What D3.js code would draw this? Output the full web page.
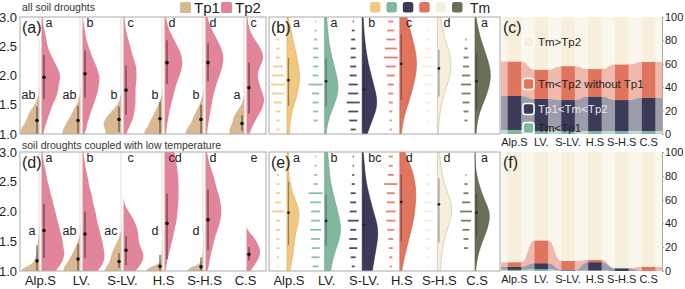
<!DOCTYPE html>
<html><head><meta charset="utf-8">
<script src="https://cdn.jsdelivr.net/npm/d3@7"></script>
<style>body{margin:0;background:#fff}svg{display:block}</style>
</head><body><svg id="c" width="685" height="289"></svg>
<script>
// ---------------- DATA ----------------
const categories = ["Alp.S","LV.","S-LV.","H.S","S-H.S","C.S"];
const yTicks = [1.0,1.5,2.0,2.5,3.0];
const pctTicks = [0,20,40,60,80,100];
const tanGrid = [1.0,1.05,1.1,1.15,1.2,1.3,1.4,1.5,1.6,1.7,1.8];
const pinkGrid = [1.0,1.1,1.2,1.3,1.4,1.5,1.6,1.7,1.8,1.9,2.0,2.1,2.2,2.3,2.4,2.5,2.6,2.7,2.8,2.9,3.0];

// (a) all soil droughts: Tp1 density (on tanGrid), Tp2 density (on pinkGrid)
const aTp1Density = [
  [19,19,18,16,14,12,9,5,2,0.5,0],
  [18,18,17,15,14,10,7,4,1.5,0.5,0],
  [16,16,17,18,18,15,9,4,1.5,0.5,0],
  [18,18,16,14,13,10,7,4,2,0.5,0],
  [18,18,16,14,12,10,7,4,2,0.5,0],
  [15,15,15,13,12,11,7,3,1,0.3,0]
];
const aTp2Density = [
  [2,3,5,7,9,11,14,16,17,18,19,17,14,11,8,6,5,4,2.5,1.5,1],
  [2,4,5,7,9,11,13,15,16,17,17,15,13,10,8,6,4,3,2,1,0.5],
  [3,5,8,10,11,12,12,12,12,13,13,13,12,10,8,7,5,3.5,2,1.5,1],
  [1.5,2,3,4,5,6.5,8,9.5,11,13,15,17,18,17.5,16,13,10,7,4,2.5,1.5],
  [1.5,2,3,4,5,6,7,8.5,10,12,14,16,17.5,18,17,15,12,9,6,3.5,2],
  [3,5,8,11,15,17,18,16,14,12,11,12,15,17,16,13,9,5,3,1.5,1]
];
// [low, high, mean]
const aTp1Stats = [[1.0,1.47,1.23],[1.0,1.48,1.23],[1.03,1.47,1.25],[1.0,1.55,1.26],[1.0,1.5,1.25],[1.05,1.32,1.18]];
const aTp2Stats = [[1.6,2.35,1.97],[1.62,2.43,2.03],[1.33,2.17,1.75],[1.85,2.6,2.22],[1.9,2.55,2.22],[1.35,2.22,1.79]];
const aTp1Letters = ["ab","ab","b","b","b","a"];
const aTp2Letters = ["a","b","c","d","d","c"];

// (d) soil droughts coupled with low temperature
const dTp1Density = [
  [18,17,9,6,4,2.5,2,1.5,1,0.5,0],
  [17,17,15,13,11,8,5,2.5,1,0.3,0],
  [17,16,14,12,11,10,7,4,1.5,0.3,0],
  [16,15,6,2,1.5,1,0.7,0.5,0.3,0,0],
  [16,15,6,2,1.5,1,0.7,0.5,0.3,0,0],
  null
];
const dTp2Density = [
  [14,19,22,23,22,21,20,18,17,15,14,12,11,9,8,6,5,4,2.5,1.5,1],
  [15,20,22,22,21,20,18,17,15,14,13,11,10,9,7,6,5,3.5,2.5,1.5,1],
  [12,17,20,20,17,15,15,14,12,9,5,1.5,0,0,0,0,0,0,0,0,0],
  [1,2,3,4.5,6,7.5,9,10,11.5,12.5,13,13.5,14,14,14,14,13.5,13,12,11,10],
  [2,3.5,4.5,5.5,7,8.5,10,12.5,14,15.5,16,15.5,14.5,13,11,9.5,8,6,4,2.5,1.5],
  [4,8,12,14,13,10,6,0,0,0,0,0,0,0,0,0,0,0,0,0,0]
];
const dTp1Stats = [[1.0,1.43,1.17],[1.0,1.45,1.2],[1.05,1.3,1.16],[1.0,1.27,1.08],[1.0,1.23,1.07],null];
const dTp2Stats = [[1.22,2.13,1.68],[1.22,2.0,1.62],[1.1,1.58,1.35],[1.2,2.3,1.8],[1.35,2.37,1.86],[1.18,1.4,1.28]];
const dTp1Letters = ["a","ab","ac","d","d",""];
const dTp2Letters = ["a","b","c","cd","d","e"];

// (b)/(e) Tm half violins: widths from top (0) to bottom (1) of the panel
const bTmDensity = [
  [1,4,6,9,11,13,12,9,5,3,2.5],
  [2,3,4,6,9,12,14,12,7,3,1.5],
  [1,1.5,2.5,4,6,9,12,15,14,9,5],
  [7,10,13,16,17,16,13,10,6,3,1.5],
  [3,5,8,12,14,13,9,5,3,1.5,1],
  [1,3,6,10,14,16,14,10,5,2,1]
];
const eTmDensity = [
  [1.5,1.5,2,4,8,13,11,8,7,5,3],
  [3,4,5,7,10,13,16,16,12,8,6],
  [1,2,3,5,8,11,15,16,14,12,10],
  [5,10,14,16,16,15,13,10,7,4,2],
  [2,3,5,8,13,15,12,8,5,4,3],
  [0,0.3,1.5,5,9,15,14,10,5,2,0.5]
];
// [low, high, mean] in relative height (0 bottom, 1 top)
const bTmStats = [[0.24,0.65,0.46],[0.24,0.65,0.45],[0.07,0.60,0.38],[0.29,0.85,0.60],[0.32,0.72,0.56],[0.21,0.69,0.45]];
const eTmStats = [[0.22,0.75,0.49],[0.21,0.64,0.42],[0.15,0.625,0.39],[0.25,0.81,0.58],[0.24,0.78,0.56],[0.29,0.65,0.49]];
// rain (dash lengths) in 13 bins from top to bottom
const bTmRain = [
  [0,0,2,3,5,10,12,14,12,8,5,3,3],
  [1,2,3,5,5,5,6,14,7,6,5,4,0],
  [1,3,4,5,5,6,7,9,10,13,10,8,5],
  [5,7,9,12,14,10,8,6,5,4,3,2,2],
  [2,3,4,6,8,12,10,8,6,5,3,2,1],
  [0,0,1,3,5,6,8,10,9,7,5,3,0]
];
const eTmRain = [
  [0,1,2,3,4,6,12,4,4,3,3,2,1],
  [1,2,3,4,14,11,9,9,11,9,8,8,6],
  [1,1,2,3,5,6,7,11,6,8,8,5,3],
  [4,4,6,13,8,8,10,9,7,5,4,3,2],
  [1,2,3,4,6,8,10,8,6,5,4,3,2],
  [0,0,1,3,5,8,12,10,7,5,4,0,0]
];
const bLetters = ["a","a","b","c","d","a"];
const eLetters = ["a","b","bc","d","d","a"];

// (c)/(f) percentage composition
const layerKeys = ["Tm<Tp1","Tp1<Tm<Tp2","Tm<Tp2 without Tp1","Tm>Tp2"];
const cTmLtTp1      = [3.5,2.5,2.5,2.5,2.5,2.5];
const cTp1LtTmLtTp2 = [29,27.5,26.5,29.5,26.5,28.5];
const cTmLtTp2NoTp1 = [29.5,25,29,23.5,30.5,30.5];
const cTmGtTp2      = [38,45,42,44.5,40.5,38.5];
const fTmLtTp1      = [1,1.5,0.5,0.5,0,0];
const fTp1LtTmLtTp2 = [2.6,5,0.5,6.9,2.3,0];
const fTmLtTp2NoTp1 = [3.8,19.2,7.5,1.9,0,3.6];
const fTmGtTp2      = [92.6,74.3,91.5,90.7,97.7,96.4];

// ---------------- STYLE ----------------
const FONT = "'Liberation Sans', Arial, Helvetica, sans-serif";
const TAN = "#d9b992", PINK = "#e3859a";
const tmColors = ["#f2c77e","#82b89d","#3b3a58","#e1745d","#f5efdc","#687058"];
const tmStroke = ["#d9aa5c","#65a083","#2a2a44","#c95c46","#c2b99f","#50573f"];
const layerColors = ["#7fb89d","#3b3a58","#e1745d","#f5efdc"];
const AX = "#aaaaaa", TXT = "#222";

const svg = d3.select("#c").style("font-family", FONT);
const defs = svg.append("defs");

const rows = [
  {top:17, bot:134},
  {top:152, bot:271}
];
const P = {a:[20,266], b:[269,500], c:[501,662]};

function clip(id,x0,x1,y0,y1){
  defs.append("clipPath").attr("id",id).append("rect")
    .attr("x",x0).attr("y",y0).attr("width",x1-x0).attr("height",y1-y0);
}

// ---------- violin panels (a)/(d) ----------
function violinPanel(ri, tanD, pinkD, tanS, pinkS, tanL, pinkL, lab){
  const r = rows[ri];
  const y = d3.scaleLinear([1,3],[r.bot,r.top]);
  const x = d3.scalePoint(categories,[40.5,245.5]);
  const w = d3.scaleLinear([0,20],[0,20]);
  const cid = "clipV"+ri;
  clip(cid,P.a[0],P.a[1],r.top,r.bot);
  const g = svg.append("g").attr("clip-path",`url(#${cid})`);
  categories.forEach((c,i)=>{
    const cx = x(c);
    if (tanD[i]){
      const pts = tanGrid.map((v,k)=>({v,w:tanD[i][k]}));
      const last = d3.max(pts.filter(p=>p.w>0),p=>p.v);
      g.append("line").attr("x1",cx-1.6).attr("x2",cx-1.6).attr("y1",y(last)).attr("y2",y(3))
        .attr("stroke",TAN).attr("stroke-opacity",0.35).attr("stroke-width",1.4);
      g.append("path").datum(pts)
        .attr("d",d3.area().curve(d3.curveBasis).y(d=>y(d.v)).x0(cx-1).x1(d=>cx-1-w(d.w)))
        .attr("fill",TAN);
    }
    const pp = pinkGrid.map((v,k)=>({v,w:pinkD[i][k]}));
    g.append("path").datum(pp)
      .attr("d",d3.area().curve(d3.curveBasis).y(d=>y(d.v)).x0(cx+1).x1(d=>cx+1+w(d.w)))
      .attr("fill",PINK);
    if (tanS[i]){
      const s = tanS[i];
      g.append("line").attr("x1",cx-3.5).attr("x2",cx-3.5).attr("y1",y(s[0])).attr("y2",y(s[1]))
        .attr("stroke","#4a3c30").attr("stroke-width",1);
      g.append("circle").attr("cx",cx-3.5).attr("cy",y(s[2])).attr("r",1.8).attr("fill","#111");
    }
    const s2 = pinkS[i];
    g.append("line").attr("x1",cx+3.5).attr("x2",cx+3.5).attr("y1",y(s2[0])).attr("y2",y(s2[1]))
      .attr("stroke","#4a3038").attr("stroke-width",1);
    g.append("circle").attr("cx",cx+3.5).attr("cy",y(s2[2])).attr("r",1.8).attr("fill","#111");
    // letters
    svg.append("text").attr("x",cx-5).attr("y",y(1.6)).attr("text-anchor","end")
      .attr("font-size",12.5).attr("fill",TXT).text(tanL[i]);
    svg.append("text").attr("x",cx+5).attr("y",r.top+10).attr("text-anchor","start")
      .attr("font-size",12.5).attr("fill",TXT).text(pinkL[i]);
  });
  svg.append("rect").attr("x",P.a[0]).attr("y",r.top).attr("width",P.a[1]-P.a[0]).attr("height",r.bot-r.top)
    .attr("fill","none").attr("stroke",AX).attr("stroke-width",1);
  const ax = svg.append("g").attr("transform",`translate(${P.a[0]},0)`)
    .call(d3.axisLeft(y).tickValues(yTicks).tickFormat(d3.format(".1f")).tickSize(0).tickPadding(3));
  ax.select(".domain").remove();
  ax.selectAll("text").attr("font-size",13).attr("fill",TXT).attr("font-family",FONT);
  svg.append("text").attr("x",22).attr("y",r.top+16).attr("font-size",16).attr("fill",TXT).text(lab);
}

// ---------- Tm panels (b)/(e) ----------
function tmPanel(ri, dens, stats, rain, letters, lab){
  const r = rows[ri];
  const y = d3.scaleLinear([0,1],[r.bot,r.top]);
  const x = d3.scalePoint(categories,[287,475]);
  const w = d3.scaleLinear([0,20],[0,20]);
  const cid = "clipT"+ri;
  clip(cid,P.b[0],P.b[1],r.top,r.bot);
  const g = svg.append("g").attr("clip-path",`url(#${cid})`);
  categories.forEach((c,i)=>{
    const fx = x(c);
    // rain
    rain[i].forEach((len,k)=>{
      if (len<=0) return;
      const v = 1-(k+0.5)/rain[i].length;
      g.append("line").attr("x1",fx-9-len/2).attr("x2",fx-9+len/2).attr("y1",y(v)).attr("y2",y(v))
        .attr("stroke",tmColors[i]).attr("stroke-width",1.8)
        .attr("stroke-opacity", i===4?1:0.9);
    });
    const pts = dens[i].map((d,k)=>({v:1-k/(dens[i].length-1), w:d}));
    g.append("path").datum(pts)
      .attr("d",d3.area().curve(d3.curveBasis).y(d=>y(d.v)).x0(fx).x1(d=>fx+w(d.w)))
      .attr("fill",tmColors[i]).attr("stroke",tmStroke[i]).attr("stroke-width",0.6);
    const s = stats[i];
    g.append("line").attr("x1",fx+1.5).attr("x2",fx+1.5).attr("y1",y(s[0])).attr("y2",y(s[1]))
      .attr("stroke","rgba(40,40,40,0.45)").attr("stroke-width",1.2);
    g.append("circle").attr("cx",fx+1.5).attr("cy",y(s[2])).attr("r",1.4).attr("fill","#222");
    svg.append("text").attr("x",fx+6).attr("y",r.top+10).attr("font-size",12.5).attr("fill",TXT).text(letters[i]);
  });
  svg.append("rect").attr("x",P.b[0]).attr("y",r.top).attr("width",P.b[1]-P.b[0]).attr("height",r.bot-r.top)
    .attr("fill","none").attr("stroke",AX).attr("stroke-width",1);
  svg.append("text").attr("x",271).attr("y",r.top+16).attr("font-size",16).attr("fill",TXT).text(lab);
}

// ---------- composition panels (c)/(f) ----------
function compPanel(ri, series, lab){
  const r = rows[ri];
  const y = d3.scaleLinear([0,100],[r.bot,r.top]);
  const x = d3.scaleBand(categories,[P.c[0],P.c[1]]);
  const bw = x.bandwidth()/2;
  const table = categories.map((c,i)=>{
    const o = {cat:c};
    layerKeys.forEach((k,j)=>o[k]=series[j][i]);
    return o;
  });
  const stack = d3.stack().keys(layerKeys)(table);
  const g = svg.append("g");
  stack.forEach((s,j)=>{
    const pts = [{x:P.c[0], y0:s[0][0], y1:s[0][1]}];
    s.forEach((d,i)=>{
      const cx = x(categories[i])+x.bandwidth()/2;
      pts.push({x:cx-bw/2,y0:d[0],y1:d[1]});
      pts.push({x:cx+bw/2,y0:d[0],y1:d[1]});
    });
    pts.push({x:P.c[1], y0:s[s.length-1][0], y1:s[s.length-1][1]});
    g.append("path").datum(pts)
      .attr("d",d3.area().curve(d3.curveBumpX).x(d=>d.x).y0(d=>y(d.y0)).y1(d=>y(d.y1)))
      .attr("fill",layerColors[j]).attr("fill-opacity",0.5);
  });
  stack.forEach((s,j)=>{
    s.forEach((d,i)=>{
      const cx = x(categories[i])+x.bandwidth()/2;
      if (d[1]-d[0]<=0) return;
      g.append("rect").attr("x",cx-bw/2).attr("width",bw).attr("y",y(d[1])).attr("height",y(d[0])-y(d[1]))
        .attr("fill",layerColors[j]);
    });
  });
  const ax = svg.append("g").attr("transform",`translate(${P.c[1]},0)`)
    .call(d3.axisRight(y).tickValues(pctTicks).tickSize(2).tickPadding(1));
  ax.select(".domain").attr("stroke",AX);
  ax.selectAll(".tick line").attr("stroke",AX);
  ax.selectAll("text").attr("font-size",11).attr("fill",TXT).attr("font-family",FONT);
  categories.forEach(c=>{
    svg.append("text").attr("x",x(c)+x.bandwidth()/2).attr("y",r.bot+12).attr("text-anchor","middle")
      .attr("font-size",11).attr("fill",TXT).text(c);
  });
  svg.append("text").attr("x",503).attr("y",r.top+16).attr("font-size",16).attr("fill",TXT).text(lab);
}

violinPanel(0, aTp1Density, aTp2Density, aTp1Stats, aTp2Stats, aTp1Letters, aTp2Letters, "(a)");
violinPanel(1, dTp1Density, dTp2Density, dTp1Stats, dTp2Stats, dTp1Letters, dTp2Letters, "(d)");
tmPanel(0, bTmDensity, bTmStats, bTmRain, bLetters, "(b)");
tmPanel(1, eTmDensity, eTmStats, eTmRain, eLetters, "(e)");
compPanel(0, [cTmLtTp1,cTp1LtTmLtTp2,cTmLtTp2NoTp1,cTmGtTp2], "(c)");
compPanel(1, [fTmLtTp1,fTp1LtTmLtTp2,fTmLtTp2NoTp1,fTmGtTp2], "(f)");

// x labels below (d) and (e)
const xa = d3.scalePoint(categories,[40.5,245.5]);
const xb = d3.scalePoint(categories,[289,477]);
categories.forEach(c=>{
  svg.append("text").attr("x",xa(c)).attr("y",285).attr("text-anchor","middle").attr("font-size",13).attr("fill",TXT).text(c);
  svg.append("text").attr("x",xb(c)).attr("y",285).attr("text-anchor","middle").attr("font-size",13).attr("fill",TXT).text(c);
});

// titles
svg.append("text").attr("x",22).attr("y",11).attr("font-size",10.5).attr("fill","#333").text("all soil droughts");
svg.append("text").attr("x",22).attr("y",149).attr("font-size",10.5).attr("fill","#333").text("soil droughts coupled with low temperature");

// legend Tp1/Tp2
const legTp = [{t:"Tp1",c:TAN,x:180},{t:"Tp2",c:PINK,x:221}];
legTp.forEach(d=>{
  svg.append("rect").attr("x",d.x).attr("y",2).attr("width",11).attr("height",11).attr("rx",1.5).attr("fill",d.c);
  svg.append("text").attr("x",d.x+14).attr("y",13).attr("font-size",15).attr("fill",TXT).text(d.t);
});
// legend Tm
tmColors.forEach((c,i)=>{
  svg.append("rect").attr("x",370+i*16.4).attr("y",2).attr("width",10.5).attr("height",10.5).attr("rx",2.5).attr("fill",c);
});
svg.append("text").attr("x",470).attr("y",13).attr("font-size",14).attr("fill",TXT).text("Tm");

// legend (c)
const legC = [
  {k:3,y:42,fill:TXT},{k:2,y:84,fill:TXT},{k:1,y:109,fill:"#e6e6ee"},{k:0,y:128,fill:TXT}
];
legC.forEach(d=>{
  svg.append("rect").attr("x",523).attr("y",d.y-5.5).attr("width",11).attr("height",11).attr("rx",2.5)
    .attr("fill",layerColors[d.k]).attr("stroke","#fff").attr("stroke-width",1.5);
  svg.append("text").attr("x",538).attr("y",d.y+4).attr("font-size",11.5).attr("fill",d.fill).text(layerKeys[d.k]);
});
</script>
</body></html>
